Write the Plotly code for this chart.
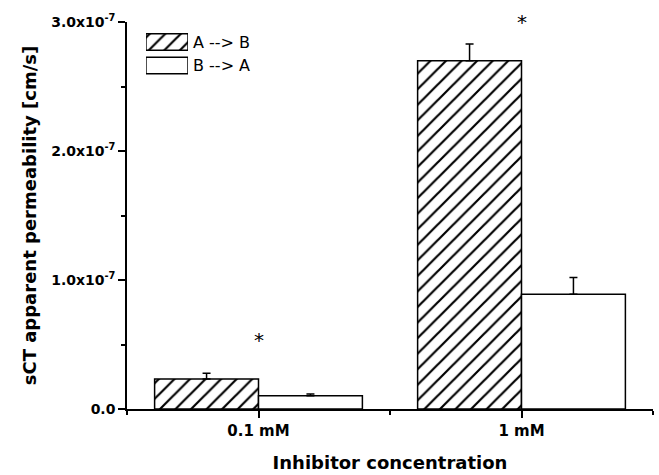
import plotly.graph_objects as go

categories = ["0.1 mM", "1 mM"]
x_pos = [0, 1]
series_names = ["A --> B", "B --> A"]
a_to_b = [0.233e-7, 2.70e-7]
a_to_b_err = [0.045e-7, 0.13e-7]
b_to_a = [0.103e-7, 0.89e-7]
b_to_a_err = [0.013e-7, 0.13e-7]
star_y = [0.535e-7, 3.0e-7]
ytick_vals = [0, 1e-7, 2e-7, 3e-7]
ytick_text = ["0.0", "1.0x10<sup>-7</sup>", "2.0x10<sup>-7</sup>", "3.0x10<sup>-7</sup>"]

FONT = "DejaVu Sans"
hatch = dict(shape="/", fgcolor="black", bgcolor="white", fgopacity=1, size=11, solidity=0.2)
outline = dict(color="black", width=1.5)

fig = go.Figure()
fig.add_trace(go.Bar(
    x=x_pos, y=a_to_b, name=series_names[0], showlegend=False,
    marker=dict(color="white", line=outline, pattern=hatch),
    error_y=dict(type="data", array=a_to_b_err, arrayminus=[0, 0], color="black", thickness=1.5, width=4),
))
fig.add_trace(go.Bar(
    x=x_pos, y=b_to_a, name=series_names[1], showlegend=False,
    marker=dict(color="white", line=outline),
    error_y=dict(type="data", array=b_to_a_err, arrayminus=[0, 0], color="black", thickness=1.5, width=4),
))
# legend boxes drawn as bars on an overlay axis
fig.add_trace(go.Bar(
    x=[1], y=[series_names[0]], orientation="h", width=0.70, offset=-0.35,
    xaxis="x2", yaxis="y2", showlegend=False, hoverinfo="skip", cliponaxis=False,
    marker=dict(color="white", line=outline, pattern=hatch),
))
fig.add_trace(go.Bar(
    x=[1], y=[series_names[1]], orientation="h", width=0.70, offset=-0.35,
    xaxis="x2", yaxis="y2", showlegend=False, hoverinfo="skip", cliponaxis=False,
    marker=dict(color="white", line=outline),
))
for xp, sy in zip(x_pos, star_y):
    fig.add_annotation(x=xp, y=sy, xref="x", yref="y", text="*", showarrow=False,
                       xanchor="center", yanchor="middle",
                       font=dict(size=20, family=FONT, color="black"))

fig.update_layout(
    width=659, height=475,
    margin=dict(l=127, r=6, t=22, b=66),
    paper_bgcolor="white", plot_bgcolor="white",
    barmode="group", bargap=0.21, bargroupgap=0,
    font=dict(family=FONT, color="black"),
    showlegend=False,
    xaxis=dict(range=[-0.5, 1.5], tickvals=x_pos, ticktext=["<b>%s</b>" % c for c in categories],
               showgrid=False, zeroline=False, automargin=False,
               showline=True, linecolor="black", linewidth=1.5, ticks="outside", ticklen=7, tickwidth=1.5,
               tickcolor="black", tickfont=dict(size=15, family=FONT),
               minor=dict(tick0=-0.5, dtick=1, ticks="outside", ticklen=4, tickwidth=1.5, tickcolor="black"),
               title=dict(text="<b>Inhibitor concentration</b>", font=dict(size=18, family=FONT), standoff=18)),
    yaxis=dict(range=[0, 3e-7], tickvals=ytick_vals, ticktext=["<b>%s</b>" % t for t in ytick_text],
               showgrid=False, zeroline=False, automargin=False,
               showline=True, linecolor="black", linewidth=1.5, ticks="outside", ticklen=7, tickwidth=1.5,
               tickcolor="black", tickfont=dict(size=14, family=FONT),
               minor=dict(tickvals=[0.5e-7, 1.5e-7, 2.5e-7], ticks="outside", ticklen=4, tickwidth=1.5, tickcolor="black"),
               title=dict(text="<b>sCT apparent permeability [cm/s]</b>", font=dict(size=18, family=FONT), standoff=10)),
    xaxis2=dict(domain=[0.036, 0.116], range=[0, 1], anchor="y2", visible=False, fixedrange=True),
    yaxis2=dict(domain=[0.85, 1.0], range=[1.619, -0.851], anchor="x2", type="category",
                categoryarray=series_names, side="right", showgrid=False, zeroline=False, showline=False,
                ticks="", ticklabelstandoff=4, tickfont=dict(size=16, family=FONT, color="black"),
                fixedrange=True),
)
fig.write_html("out.html", config={"displayModeBar": False},
               post_script="document.body.style.margin='0px';document.body.style.overflow='hidden';")
